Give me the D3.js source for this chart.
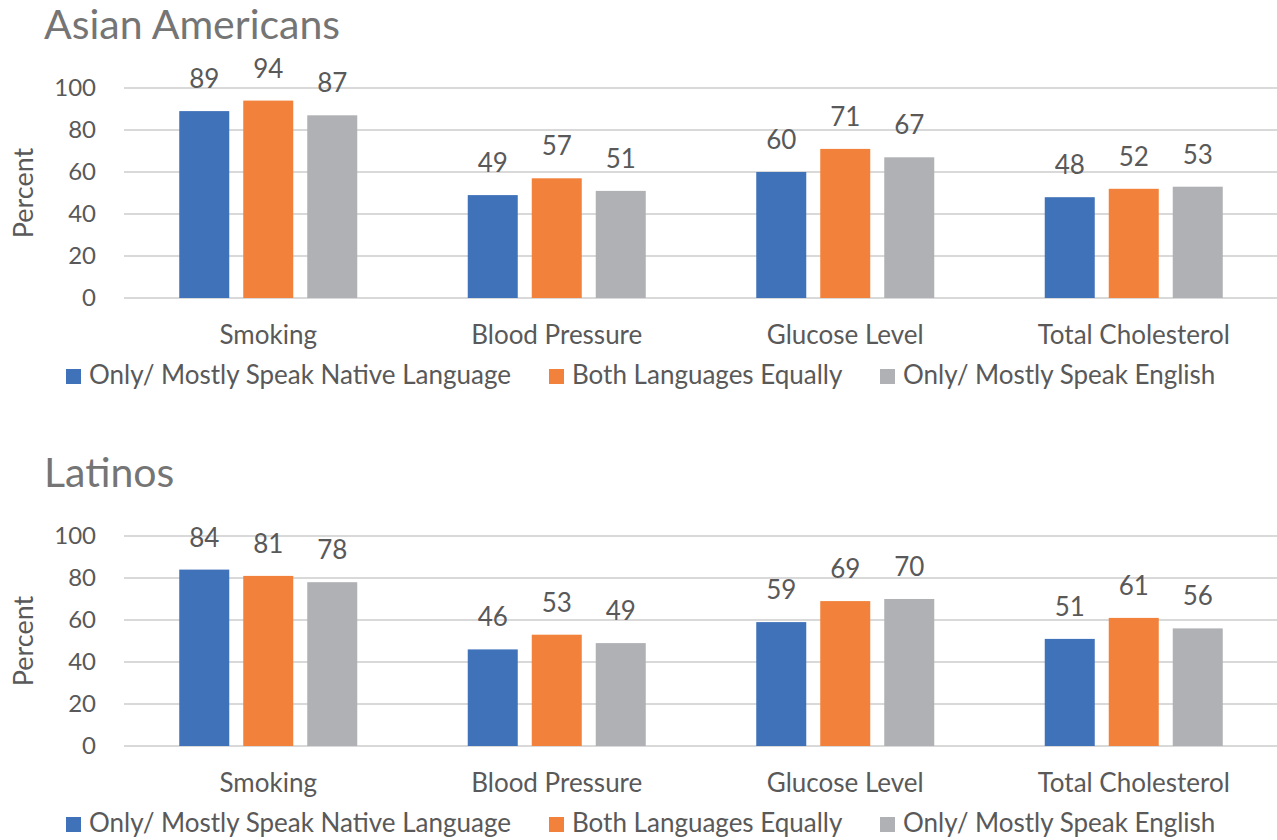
<!DOCTYPE html>
<html>
<head>
<meta charset="utf-8">
<script src="https://cdn.jsdelivr.net/npm/d3@7"></script>
<style>
  body { margin: 0; background: #fff; }
  svg { display: block; font-family: Lato, "Open Sans", sans-serif; }
</style>
</head>
<body>
<svg id="chart" width="1277" height="840"></svg>
<script>
const categories = ["Smoking", "Blood Pressure", "Glucose Level", "Total Cholesterol"];
const seriesNames = ["Only/ Mostly Speak Native Language", "Both Languages Equally", "Only/ Mostly Speak English"];
const colors = ["#3f72b9", "#f2813b", "#b0b1b4"];
const yTicks = [0, 20, 40, 60, 80, 100];

const asianNative  = [89, 49, 60, 48];
const asianBoth    = [94, 57, 71, 52];
const asianEnglish = [87, 51, 67, 53];

const latinoNative  = [84, 46, 59, 51];
const latinoBoth    = [81, 53, 69, 61];
const latinoEnglish = [78, 49, 70, 56];

const panels = [
  { title: "Asian Americans", series: [asianNative, asianBoth, asianEnglish], top: 0 },
  { title: "Latinos", series: [latinoNative, latinoBoth, latinoEnglish], top: 448 }
];

const svg = d3.select("#chart");
const textColor = "#595959";
const FONT = "Lato, 'Open Sans', sans-serif";

const x0 = d3.scaleBand().domain(categories).range([124, 1278]).padding(0);
const x1 = d3.scaleBand().domain(d3.range(seriesNames.length)).range([0, 178]).paddingInner(14 / 64).paddingOuter(0);

panels.forEach(p => {
  const g = svg.append("g").attr("transform", `translate(0,${p.top})`);
  const y = d3.scaleLinear().domain([0, 100]).range([298, 88]);

  g.append("text").attr("x", 44).attr("y", 39)
    .attr("font-size", 41).attr("fill", "#757575").text(p.title);

  // gridlines
  g.selectAll("line.grid").data(yTicks).join("line")
    .attr("x1", 124).attr("x2", 1277)
    .attr("y1", d => y(d)).attr("y2", d => y(d))
    .attr("stroke", "#d9d9d9").attr("stroke-width", 2);

  // y axis labels
  const yAxis = d3.axisLeft(y).tickValues(yTicks).tickSize(0).tickPadding(0);
  const ya = g.append("g").attr("transform", "translate(96,0)").call(yAxis);
  ya.select(".domain").remove();
  ya.selectAll("text").attr("font-size", 24).attr("fill", textColor)
    .attr("font-family", FONT);

  g.append("text")
    .attr("transform", `translate(33,193) rotate(-90)`)
    .attr("text-anchor", "middle").attr("font-size", 27).attr("fill", textColor)
    .text("Percent");

  // x axis labels
  const xAxis = d3.axisBottom(x0).tickSize(0).tickPadding(0);
  const xa = g.append("g").attr("transform", "translate(0,344)").call(xAxis);
  xa.select(".domain").remove();
  xa.selectAll("text").attr("font-size", 26).attr("fill", textColor).attr("dy", 0).attr("y", 0)
    .attr("font-family", FONT);

  // bars
  categories.forEach((c, ci) => {
    const gx = x0(c) + x0.bandwidth() / 2 - 89;
    p.series.forEach((s, si) => {
      const v = s[ci];
      g.append("rect")
        .attr("x", gx + x1(si)).attr("width", x1.bandwidth())
        .attr("y", y(v)).attr("height", y(0) - y(v))
        .attr("fill", colors[si]);
      g.append("text")
        .attr("x", gx + x1(si) + x1.bandwidth() / 2).attr("y", y(v) - 23)
        .attr("text-anchor", "middle").attr("font-size", 26).attr("fill", textColor)
        .text(v);
    });
  });

  // legend
  const legX = [66, 549, 880];
  seriesNames.forEach((n, i) => {
    g.append("rect").attr("x", legX[i]).attr("y", 369).attr("width", 15).attr("height", 15).attr("fill", colors[i]);
    g.append("text").attr("x", legX[i] + 23).attr("y", 384).attr("font-size", 26).attr("fill", textColor).text(n);
  });
});
</script>
</body>
</html>
